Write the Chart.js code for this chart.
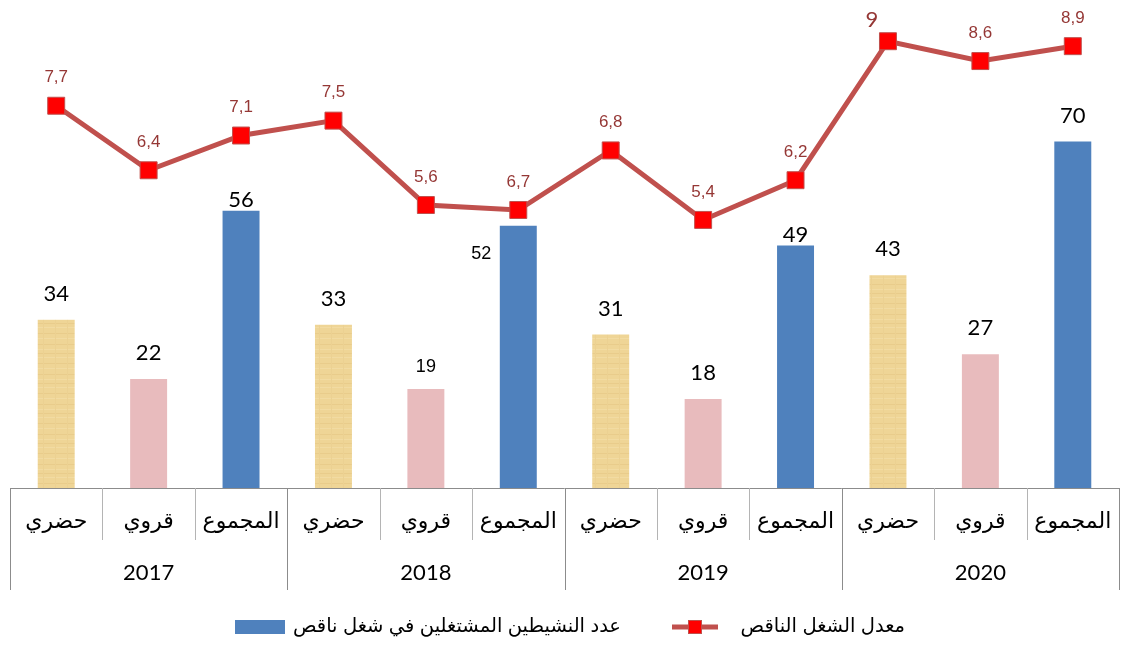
<!DOCTYPE html>
<html lang="ar">
<head>
<meta charset="utf-8">
<script src="https://cdn.jsdelivr.net/npm/chart.js@4.4.1/dist/chart.umd.min.js"></script>
<style>
  html, body { margin: 0; padding: 0; background: #fff; }
  #wrap { width: 1121px; height: 648px; position: relative; }
</style>
</head>
<body>
<div id="wrap"><canvas id="underEmploymentChart"></canvas></div>
<script>
var years = ["2017", "2018", "2019", "2020"];
var areas = ["حضري", "قروي", "المجموع"];
var seriesNames = ["عدد النشيطين المشتغلين في شغل ناقص", "معدل الشغل الناقص"];

// bar heights as drawn, and the labels printed on them
var workersCount = [34, 22, 56, 33, 20, 53, 31, 18, 49, 43, 27, 70];
var workersLabels = ["34", "22", "56", "33", "19", "52", "31", "18", "49", "43", "27", "70"];

// line points as drawn, and their printed labels
var underRate = [7.7, 6.4, 7.1, 7.4, 5.7, 5.6, 6.8, 5.4, 6.2, 9.0, 8.6, 8.9];
var underRateLabels = ["7,7", "6,4", "7,1", "7,5", "5,6", "6,7", "6,8", "5,4", "6,2", "9", "8,6", "8,9"];

var arabicFont = '"Liberation Sans", "DejaVu Sans", sans-serif';

document.addEventListener("DOMContentLoaded", function () {
  var ctx = document.getElementById("underEmploymentChart").getContext("2d");

  // papyrus-like fill for the urban bars
  function makeTan() {
    var c = document.createElement("canvas");
    c.width = 12; c.height = 30;
    var g = c.getContext("2d");
    g.fillStyle = "#EFD596";
    g.fillRect(0, 0, 12, 30);
    g.fillStyle = "#E9CC8B";
    [3, 14, 23].forEach(function (r) { g.fillRect(0, r, 12, 1); });
    g.fillStyle = "#F2DBA2";
    [8, 19, 27].forEach(function (r) { g.fillRect(0, r, 12, 1); });
    g.fillStyle = "#ECD192";
    g.fillRect(7, 0, 1, 30);
    return ctx.createPattern(c, "repeat");
  }
  var tan = makeTan();
  var areaColors = [tan, "#E8BBBD", "#4F81BD"];

  var labels = [];
  var barColors = [];
  years.forEach(function () {
    areas.forEach(function (a, j) {
      labels.push(a);
      barColors.push(areaColors[j]);
    });
  });

  var barLabelStyle = {
    2: { up: 11 },
    4: { up: 22, font: "18px " + arabicFont },
    5: { dx: -37, up: -28, font: "18px " + arabicFont },
    8: { up: 11 }
  };

  var valueLabels = {
    id: "valueLabels",
    afterDatasetsDraw: function (chart) {
      var c = chart.ctx;
      c.save();
      c.textAlign = "center";
      c.textBaseline = "middle";
      chart.getDatasetMeta(1).data.forEach(function (bar, i) {
        var s = barLabelStyle[i] || {};
        c.font = s.font || "22px Lato";
        c.fillStyle = "#000";
        c.fillText(workersLabels[i], bar.x + (s.dx || 0), bar.y - (s.up == null ? 26 : s.up));
      });
      chart.getDatasetMeta(0).data.forEach(function (pt, i) {
        c.fillStyle = "#953735";
        if (underRateLabels[i] === "9") {
          c.font = "22px Lato";
          c.fillText(underRateLabels[i], pt.x - 16, pt.y - 21);
        } else {
          c.font = "17px " + arabicFont;
          c.fillText(underRateLabels[i], pt.x, pt.y - 28);
        }
      });
      c.restore();
    }
  };

  var groupedAxis = {
    id: "groupedAxis",
    afterDraw: function (chart) {
      var c = chart.ctx;
      var area = chart.chartArea;
      var xs = chart.scales.x;
      var step = (area.right - area.left) / labels.length;
      var y0 = area.bottom;
      c.save();
      c.lineWidth = 1;
      c.strokeStyle = "#8C8C8C";
      c.beginPath();
      c.moveTo(area.left, y0 + 0.5);
      c.lineTo(area.right, y0 + 0.5);
      c.stroke();
      for (var k = 0; k <= labels.length; k++) {
        var x = Math.round(area.left + k * step) + 0.5;
        var outer = k % areas.length === 0;
        c.strokeStyle = outer ? "#8C8C8C" : "#B4B4B4";
        c.beginPath();
        c.moveTo(x, y0);
        c.lineTo(x, y0 + (outer ? 102 : 52));
        c.stroke();
      }
      c.fillStyle = "#000";
      c.textAlign = "center";
      c.textBaseline = "middle";
      c.font = "22px " + arabicFont;
      labels.forEach(function (l, i) {
        c.fillText(l, xs.getPixelForValue(i), y0 + 34);
      });
      c.font = "22px Lato";
      years.forEach(function (yr, g) {
        var mid = area.left + (g * areas.length + areas.length / 2) * step;
        c.fillText(yr, mid, y0 + 85);
      });

      // legend
      var ly = 627;
      c.fillStyle = "#4F81BD";
      c.fillRect(235, ly - 7, 50, 14);
      c.fillStyle = "#000";
      c.font = "19.5px " + arabicFont;
      c.textAlign = "right";
      c.fillText(seriesNames[0], 621, ly);
      c.strokeStyle = "#C0504D";
      c.lineWidth = 5;
      c.beginPath();
      c.moveTo(672, ly);
      c.lineTo(718, ly);
      c.stroke();
      c.fillStyle = "#FF0000";
      c.fillRect(688, ly - 7, 14, 14);
      c.lineWidth = 1;
      c.strokeRect(688.5, ly - 6.5, 13, 13);
      c.fillStyle = "#000";
      c.fillText(seriesNames[1], 905, ly);
      c.restore();
    }
  };

  new Chart(ctx, {
    type: "bar",
    data: {
      labels: labels,
      datasets: [
        {
          type: "line",
          label: seriesNames[1],
          data: underRate,
          yAxisID: "y1",
          order: 0,
          borderColor: "#C0504D",
          borderWidth: 5,
          pointStyle: "rect",
          pointRadius: 12,
          pointHoverRadius: 12,
          pointBackgroundColor: "#FF0000",
          pointBorderColor: "#C0504D",
          pointBorderWidth: 1,
          tension: 0,
          clip: false
        },
        {
          label: seriesNames[0],
          data: workersCount,
          yAxisID: "y",
          order: 1,
          backgroundColor: barColors,
          borderWidth: 0,
          categoryPercentage: 1,
          barPercentage: 0.4
        }
      ]
    },
    options: {
      responsive: true,
      maintainAspectRatio: false,
      animation: false,
      layout: { autoPadding: false, padding: { left: 10, right: 2, top: 0, bottom: 160 } },
      plugins: {
        legend: { display: false },
        tooltip: { enabled: false }
      },
      scales: {
        x: { display: false, offset: true },
        y: { display: false, min: 0, max: 98.6 },
        y1: { display: false, min: 0, max: 9.83, position: "right" }
      }
    },
    plugins: [valueLabels, groupedAxis]
  });
});
</script>
</body>
</html>
